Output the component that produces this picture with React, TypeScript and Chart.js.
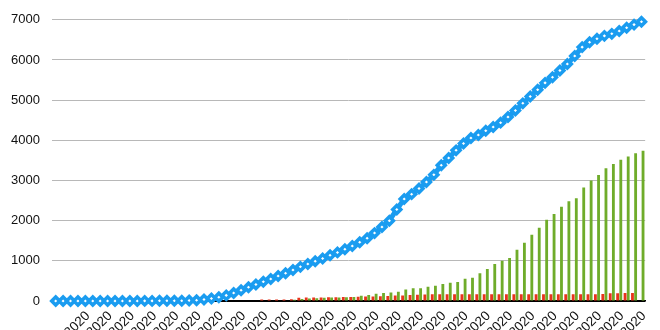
import React, { useEffect, useRef } from "react";
import { Chart, registerables } from "chart.js";
Chart.register(...registerables);

const dates = [
  "1/22/2020","1/23/2020","1/24/2020","1/25/2020","1/26/2020","1/27/2020","1/28/2020","1/29/2020","1/30/2020","1/31/2020",
  "2/1/2020","2/2/2020","2/3/2020","2/4/2020","2/5/2020","2/6/2020","2/7/2020","2/8/2020","2/9/2020","2/10/2020",
  "2/11/2020","2/12/2020","2/13/2020","2/14/2020","2/15/2020","2/16/2020","2/17/2020","2/18/2020","2/19/2020","2/20/2020",
  "2/21/2020","2/22/2020","2/23/2020","2/24/2020","2/25/2020","2/26/2020","2/27/2020","2/28/2020","2/29/2020",
  "3/1/2020","3/2/2020","3/3/2020","3/4/2020","3/5/2020","3/6/2020","3/7/2020","3/8/2020","3/9/2020","3/10/2020",
  "3/11/2020","3/12/2020","3/13/2020","3/14/2020","3/15/2020","3/16/2020","3/17/2020","3/18/2020","3/19/2020","3/20/2020",
  "3/21/2020","3/22/2020","3/23/2020","3/24/2020","3/25/2020","3/26/2020","3/27/2020","3/28/2020","3/29/2020","3/30/2020","3/31/2020",
  "4/1/2020","4/2/2020","4/3/2020","4/4/2020","4/5/2020","4/6/2020","4/7/2020","4/8/2020","4/9/2020","4/10/2020"
];

const confirmed = [
  0,0,0,0,0,0,0,1,1,1,2,2,3,3,4,5,6,8,
  12,20,35,60,95,140,200,270,340,410,480,550,620,690,770,850,920,990,1060,1140,1210,1290,
  1370,1460,1560,1690,1840,2000,2280,2540,2660,2800,2960,3140,3380,3560,3750,3920,4060,4130,4240,4330,
  4440,4580,4740,4920,5090,5260,5430,5570,5740,5900,6100,6320,6440,6530,6600,6650,6720,6800,6880,6950
];

const deaths = [
  0,0,0,0,0,0,0,0,0,0,0,0,0,0,0,0,0,0,0,0,0,0,0,0,0,0,0,0,
  35,35,40,40,45,80,85,90,90,95,95,100,100,105,110,115,120,125,135,140,150,155,160,
  165,165,170,165,170,165,165,170,165,170,165,170,165,170,165,165,170,165,170,165,170,165,170,175,
  190,195,200,200
];

const recovered = [
  0,0,0,0,0,0,0,0,0,0,0,0,0,0,0,0,0,0,0,0,0,0,0,0,0,0,0,0,0,0,0,0,
  30,50,60,70,80,85,90,95,100,130,150,180,200,210,230,285,317,320,357,381,421,452,476,556,579,690,
  794,921,1000,1071,1278,1452,1651,1825,2024,2167,2349,2484,2556,2825,3000,3135,3302,3413,3516,3595,3680,3740
];

const yTicks = [0, 1000, 2000, 3000, 4000, 5000, 6000, 7000];

const BLUE = "#1a9cf0";
const RED = "#e8341c";
const GREEN = "#6fac2a";
const FONT = 'Helvetica, "Liberation Sans", Arial, sans-serif';

export default function App() {
  const ref = useRef<HTMLCanvasElement>(null);
  useEffect(() => {
    const chart = new Chart(ref.current!, {
      type: "bar",
      data: {
        labels: dates,
        datasets: [
          {
            type: "line",
            label: "Confirmed",
            data: confirmed,
            borderColor: BLUE,
            borderWidth: 5,
            pointStyle: "rectRot",
            pointRadius: 4,
            pointBorderWidth: 3.5,
            pointBackgroundColor: "#ffffff",
            pointBorderColor: BLUE,
            tension: 0,
            clip: false,
          } as any,
          {
            type: "bar",
            label: "Deaths",
            data: deaths,
            backgroundColor: RED,
            categoryPercentage: 0.85,
            barPercentage: 0.9,
          },
          {
            type: "bar",
            label: "Recovered",
            data: recovered,
            backgroundColor: GREEN,
            categoryPercentage: 0.85,
            barPercentage: 0.9,
          },
        ],
      },
      options: {
        responsive: false,
        animation: false,
        layout: { padding: { right: 13, left: 0, top: 0, bottom: 0 } },
        plugins: { legend: { display: false }, tooltip: { enabled: false } },
        scales: {
          x: {
            grid: { display: false, drawTicks: false },
            border: { display: true, color: "#000", width: 1.5 },
            ticks: {
              autoSkip: false,
              minRotation: 45,
              maxRotation: 45,
              padding: 7,
              labelOffset: 10,
              color: "#111",
              font: { family: FONT, size: 13.5 },
              callback: (_v: any, i: number) => (i % 3 === 0 && i > 0 ? dates[i] : ""),
            },
            afterFit: (s: any) => {
              s.height = 69;
            },
          },
          y: {
            min: 0,
            max: 7000,
            afterBuildTicks: (s: any) => {
              s.ticks = yTicks.map((v) => ({ value: v }));
            },
            grid: {
              drawTicks: false,
              color: (c: any) => (c.tick && c.tick.value === 0 ? "#000" : "#b8b8b8"),
              lineWidth: 1,
            },
            border: { display: false },
            ticks: {
              padding: 12,
              color: "#111",
              font: { family: FONT, size: 13 },
              callback: (v: any) => String(v),
            },
            afterFit: (s: any) => {
              s.width = 52;
            },
          },
        },
      },
    });
    return () => chart.destroy();
  }, []);
  return (
    <div style={{ position: "absolute", left: 0, top: 0, width: 660, height: 370 }}>
      <canvas ref={ref} width={660} height={370} />
    </div>
  );
}
